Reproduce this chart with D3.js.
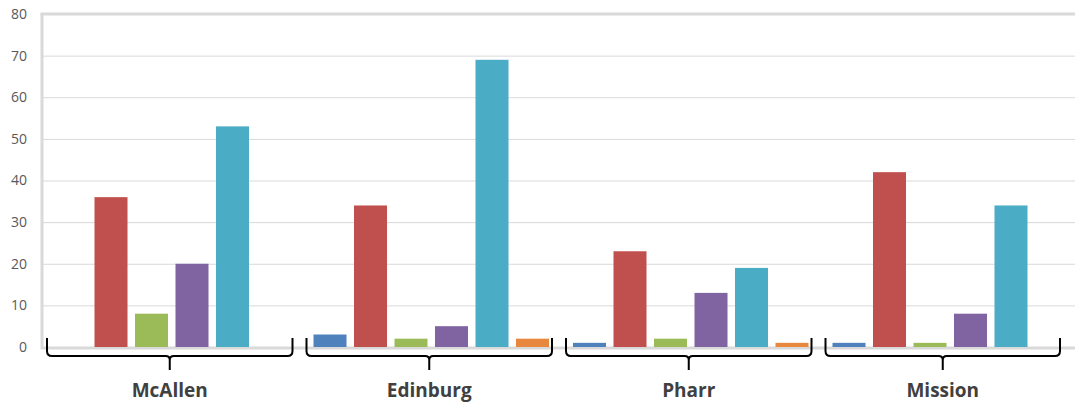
<!DOCTYPE html>
<html>
<head>
<meta charset="utf-8">
<script src="https://cdn.jsdelivr.net/npm/d3@7"></script>
<style>
  body { margin: 0; background: #fff; }
  svg { display: block; }
  .tick text { font-family: "Open Sans", "Noto Sans", sans-serif; font-size: 14px; fill: #595959; }
  .city { font-family: "Open Sans", "Noto Sans", sans-serif; font-size: 19px; font-weight: bold; fill: #404040; }
</style>
</head>
<body>
<svg id="chart" width="1075" height="404"></svg>
<script>
// categories and series
var cities = ["McAllen", "Edinburg", "Pharr", "Mission"];
var seriesNames = ["S1", "S2", "S3", "S4", "S5", "S6"];
var seriesColors = ["#4F81BD", "#C0504D", "#9BBB59", "#8064A2", "#4BACC6", "#E8873E"];
var s1 = [0, 3, 1, 1];
var s2 = [36, 34, 23, 42];
var s3 = [8, 2, 2, 1];
var s4 = [20, 5, 13, 8];
var s5 = [53, 69, 19, 34];
var s6 = [0, 2, 1, 0];
var yTicks = [0, 10, 20, 30, 40, 50, 60, 70, 80];

var allSeries = [s1, s2, s3, s4, s5, s6];

var config = {
	left: 42,
	right: 1080,   // plot runs past the window edge, like the original
	top: 14,
	bottom: 347,
	visibleRight: 1075
};

var svg = d3.select("#chart");

var x0 = d3.scaleBand().domain(cities).range([config.left, config.right]);
var x1 = d3.scaleBand().domain(d3.range(seriesNames.length))
	.range([12, x0.bandwidth() - 12]).paddingInner(0.185);
var y = d3.scaleLinear().domain([0, 80]).range([config.bottom, config.top]);

// gridlines
svg.append("g").selectAll("line")
	.data(yTicks.filter(function(d) { return d > 0 && d < 80; }))
	.enter().append("line")
	.attr("x1", config.left).attr("x2", config.right)
	.attr("y1", function(d) { return y(d) + 0.5; })
	.attr("y2", function(d) { return y(d) + 0.5; })
	.attr("stroke", "#D9D9D9").attr("stroke-width", 1);

// frame: top, left, bottom
var frame = svg.append("g").attr("stroke", "#D9D9D9").attr("stroke-width", 3);
frame.append("line").attr("x1", config.left - 1.5).attr("x2", config.right).attr("y1", y(80)).attr("y2", y(80));
frame.append("line").attr("x1", config.left).attr("x2", config.left).attr("y1", y(80)).attr("y2", y(0));
frame.append("line").attr("x1", config.left - 1.5).attr("x2", config.right).attr("y1", y(0) + 1).attr("y2", y(0) + 1);

// y axis labels
var yAxis = d3.axisLeft(y).tickValues(yTicks).tickSize(0).tickPadding(15);
svg.append("g").attr("transform", "translate(" + config.left + ",0)").call(yAxis)
	.call(function(g) { g.select(".domain").remove(); });

// bars
var groups = svg.append("g").selectAll("g.group")
	.data(cities)
	.enter().append("g")
	.attr("class", "group")
	.attr("transform", function(c) { return "translate(" + x0(c) + ",0)"; });

groups.selectAll("rect")
	.data(function(c, ci) {
		return allSeries.map(function(s, si) { return {si: si, v: s[ci]}; });
	})
	.enter().append("rect")
	.attr("x", function(d) { return x1(d.si); })
	.attr("width", x1.bandwidth())
	.attr("y", function(d) { return y(d.v); })
	.attr("height", function(d) { return y(0) - y(d.v); })
	.attr("fill", function(d) { return seriesColors[d.si]; });

// braces under each group
function bracePath(a, b) {
	var top = 338, mid = 356, tip = 370, r = 5;
	var c = (a + b) / 2;
	return "M" + a + "," + top +
		" L" + a + "," + (mid - r) +
		" Q" + a + "," + mid + " " + (a + r) + "," + mid +
		" L" + (c - 4) + "," + mid +
		" Q" + c + "," + mid + " " + c + "," + (mid + 4) +
		" L" + c + "," + tip +
		" M" + c + "," + (mid + 4) +
		" Q" + c + "," + mid + " " + (c + 4) + "," + mid +
		" L" + (b - r) + "," + mid +
		" Q" + b + "," + mid + " " + b + "," + (mid - r) +
		" L" + b + "," + top;
}

var braces = cities.map(function(c) {
	var a = x0(c) + 5;
	var b = Math.min(x0(c) + x0.bandwidth() - 9, config.visibleRight - 15);
	return {city: c, a: a, b: b};
});

svg.append("g").selectAll("path")
	.data(braces)
	.enter().append("path")
	.attr("d", function(d) { return bracePath(d.a, d.b); })
	.attr("fill", "none").attr("stroke", "#000").attr("stroke-width", 2);

svg.append("g").selectAll("text")
	.data(braces)
	.enter().append("text")
	.attr("class", "city")
	.attr("x", function(d) { return (d.a + d.b) / 2; })
	.attr("y", 397)
	.attr("text-anchor", "middle")
	.text(function(d) { return d.city; });
</script>
</body>
</html>
